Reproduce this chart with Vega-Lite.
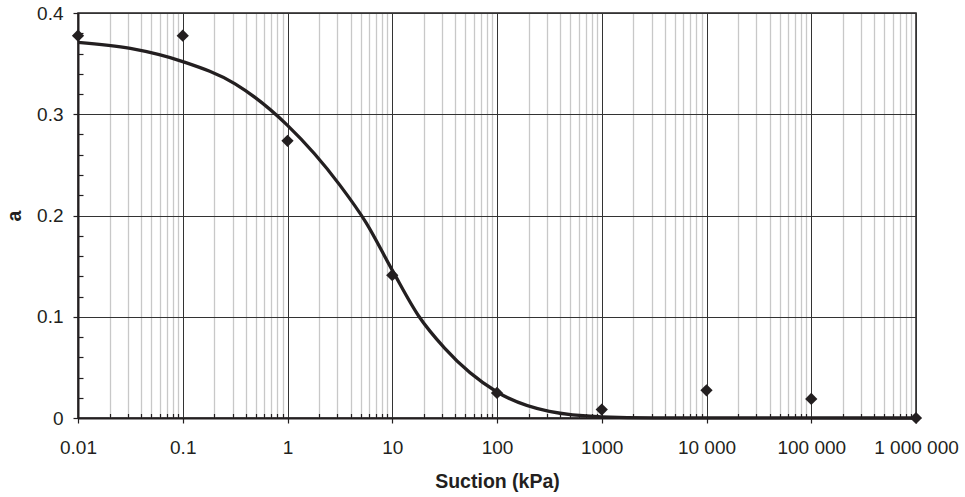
{
  "$schema": "https://vega.github.io/schema/vega-lite/v6.json",
  "autosize": "none",
  "width": 838,
  "height": 405,
  "padding": {"left": 78, "top": 13, "right": 49, "bottom": 79},
  "background": "white",
  "config": {
    "view": {"stroke": "#231f20", "strokeWidth": 1.5},
    "font": "Liberation Sans"
  },
  "datasets": {
    "pts": [
      {"s": 0.01, "a": 0.3776},
      {"s": 0.1, "a": 0.3776},
      {"s": 1, "a": 0.2738},
      {"s": 10, "a": 0.141},
      {"s": 100, "a": 0.0247},
      {"s": 1000, "a": 0.0083},
      {"s": 10000, "a": 0.0274},
      {"s": 100000, "a": 0.0188},
      {"s": 1000000, "a": 0.0}
    ],
    "curve": [
      {"s": 0.01, "a": 0.371},
      {"s": 0.0316, "a": 0.365},
      {"s": 0.1, "a": 0.352},
      {"s": 0.316, "a": 0.330},
      {"s": 1, "a": 0.289},
      {"s": 3.16, "a": 0.230},
      {"s": 5.62, "a": 0.193},
      {"s": 10, "a": 0.146},
      {"s": 17.8, "a": 0.101},
      {"s": 31.6, "a": 0.069},
      {"s": 100, "a": 0.0257},
      {"s": 316, "a": 0.0065},
      {"s": 1000, "a": 0.0012},
      {"s": 3160, "a": 0.0002},
      {"s": 1000000, "a": 0.0}
    ]
  },
  "encoding": {
    "x": {
      "field": "s",
      "type": "quantitative",
      "scale": {"type": "log", "domain": [0.01, 1000000], "nice": false},
      "axis": {
        "title": "Suction (kPa)",
        "titleFont": "Liberation Sans",
        "titleFontSize": 19.5,
        "titleFontWeight": "bold",
        "titleColor": "#231f20",
        "titlePadding": 15,
        "labelFont": "Liberation Sans",
        "labelFontSize": 19,
        "labelColor": "#231f20",
        "labelPadding": 15,
        "labelFlush": false,
        "labelOverlap": false,
        "values": [0.01,0.02,0.03,0.04,0.05,0.06,0.07,0.08,0.09,
                   0.1,0.2,0.3,0.4,0.5,0.6,0.7,0.8,0.9,
                   1,2,3,4,5,6,7,8,9,
                   10,20,30,40,50,60,70,80,90,
                   100,200,300,400,500,600,700,800,900,
                   1000,2000,3000,4000,5000,6000,7000,8000,9000,
                   10000,20000,30000,40000,50000,60000,70000,80000,90000,
                   100000,200000,300000,400000,500000,600000,700000,800000,900000,
                   1000000],
        "labelExpr": "abs(log(datum.value)/LN10 - round(log(datum.value)/LN10)) < 1e-6 ? (round(log(datum.value)/LN10) == -2 ? '0.01' : round(log(datum.value)/LN10) == -1 ? '0.1' : round(log(datum.value)/LN10) == 0 ? '1' : round(log(datum.value)/LN10) == 1 ? '10' : round(log(datum.value)/LN10) == 2 ? '100' : round(log(datum.value)/LN10) == 3 ? '1000' : round(log(datum.value)/LN10) == 4 ? '10 000' : round(log(datum.value)/LN10) == 5 ? '100 000' : '1 000 000') : ''",
        "grid": true,
        "gridColor": {"condition": {"test": "abs(log(datum.value)/LN10 - round(log(datum.value)/LN10)) < 1e-6", "value": "#333333"}, "value": "#c8c8c8"},
        "gridWidth": {"condition": {"test": "abs(log(datum.value)/LN10 - round(log(datum.value)/LN10)) < 1e-6", "value": 1}, "value": 1.3},
        "tickSize": {"condition": {"test": "abs(log(datum.value)/LN10 - round(log(datum.value)/LN10)) < 1e-6", "value": 5}, "value": -4.5},
        "tickColor": "#231f20",
        "tickWidth": 1.2,
        "domainColor": "#231f20",
        "domainWidth": 2
      }
    },
    "y": {
      "field": "a",
      "type": "quantitative",
      "scale": {"domain": [0, 0.4], "nice": false},
      "axis": {
        "title": "a",
        "titleFont": "Liberation Sans",
        "titleFontSize": 19.5,
        "titleFontWeight": "bold",
        "titleColor": "#231f20",
        "titlePadding": 12,
        "labelFont": "Liberation Sans",
        "labelFontSize": 19,
        "labelColor": "#231f20",
        "labelPadding": 10,
        "labelFlush": false,
        "labelOverlap": false,
        "values": [0,0.02,0.04,0.06,0.08,0.1,0.12,0.14,0.16,0.18,0.2,0.22,0.24,0.26,0.28,0.3,0.32,0.34,0.36,0.38,0.4],
        "labelExpr": "abs(datum.value*10 - round(datum.value*10)) < 1e-6 ? (datum.value == 0 ? '0' : format(datum.value, '.1f')) : ''",
        "grid": true,
        "gridColor": "#333333",
        "gridWidth": 1,
        "gridOpacity": {"condition": {"test": "abs(datum.value*10 - round(datum.value*10)) < 1e-6", "value": 1}, "value": 0},
        "tickSize": {"condition": {"test": "abs(datum.value*10 - round(datum.value*10)) < 1e-6", "value": 5}, "value": -5},
        "tickColor": "#231f20",
        "tickWidth": 1.2,
        "domainColor": "#231f20",
        "domainWidth": 2
      }
    }
  },
  "layer": [
    {
      "data": {"name": "curve"},
      "mark": {"type": "line", "interpolate": "monotone", "color": "#231f20", "strokeWidth": 3.3, "clip": false}
    },
    {
      "data": {"name": "pts"},
      "mark": {"type": "point", "shape": "diamond", "filled": true, "color": "#231f20", "opacity": 1, "size": 150, "clip": false}
    }
  ]
}
